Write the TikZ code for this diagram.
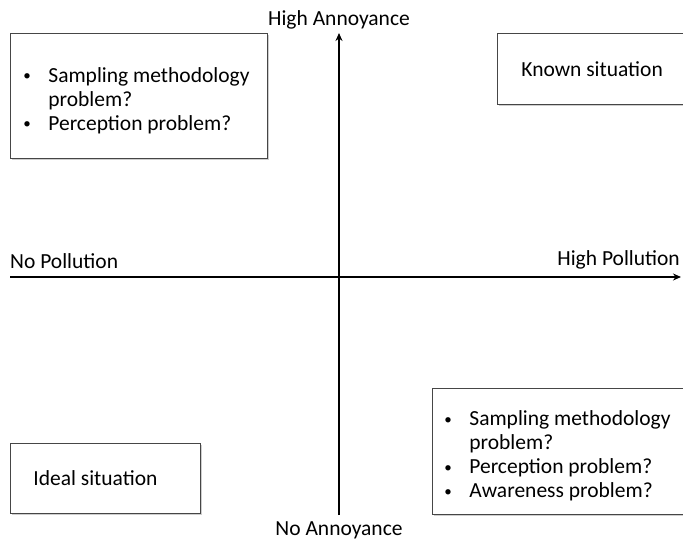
\documentclass[tikz,border=0pt]{standalone}
\usepackage{fontspec}
\setmainfont{Carlito}
\usepackage{tikz}
\usetikzlibrary{arrows.meta, positioning, shadows}
\definecolor{QuadFrame}{RGB}{70, 70, 70}
\definecolor{QuadShadow}{RGB}{185, 185, 185}
\newcommand{\bulitem}[1]{\par\noindent\hangindent=26pt\hangafter=1\makebox[26pt][l]{\hspace{1pt}\raisebox{1.5pt}{\scalebox{0.7}{\textbullet}}}#1}

\begin{document}
\begin{tikzpicture}[
    x=1pt, y=-1pt,
    quad/.style={rectangle, draw=QuadFrame, line width=0.8pt, fill=white, drop shadow={shadow xshift=1.5pt, shadow yshift=-1.5pt, fill=QuadShadow, opacity=0.7}, anchor=north west, inner xsep=12pt, inner ysep=0pt, align=flush left, font=\fontsize{21.5}{24}\selectfont},
    axis/.style={-{Stealth[length=8pt, width=7pt]}, line width=1.6pt, color=black},
    axislabel/.style={inner sep=0pt, font=\fontsize{21.5}{24}\selectfont}
  ]
    \useasboundingbox (0,0) rectangle (683,541);
    \clip (0,0) rectangle (683,541);

    \node[quad, text width=233pt, minimum height=125pt] (twoprob) at (10,33) {\bulitem{Sampling methodology problem?}\bulitem{Perception problem?}};
    \node[quad, text width=170pt, minimum height=71pt, inner xsep=24pt] (known) at (497,33) {Known situation};
    \node[quad, text width=144pt, minimum height=70pt, inner xsep=23pt] (ideal) at (10,443) {Ideal situation};
    \node[quad, text width=250pt, minimum height=126pt, inner xsep=11pt] (fourprob) at (432,388) {\bulitem{Sampling methodology problem?}\bulitem{Perception problem?}\bulitem{Awareness problem?}};

    \coordinate (west) at (10,277);
    \coordinate (east) at (681,277);
    \coordinate (south) at (339,515);
    \coordinate (north) at (339,33);

    \draw[axis] (west) -- (east);
    \draw[axis] (south) -- (north);

    \node[axislabel, above=4pt of north] (highann) {High Annoyance};
    \node[axislabel, below=6pt of south] (noann) {No Annoyance};
    \node[axislabel, above right=8pt and 0pt of west] (nopol) {No Pollution};
    \node[axislabel, above left=8pt and 1pt of east] (highpol) {High Pollution};
  \end{tikzpicture}
\end{document}
